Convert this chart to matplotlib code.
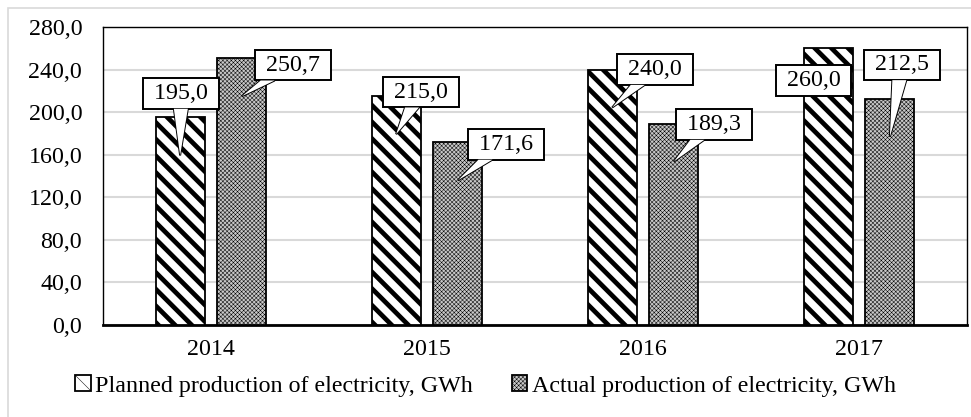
import numpy as np
import matplotlib
matplotlib.use('Agg')
import matplotlib.pyplot as plt
from matplotlib.patches import Rectangle, Polygon

# data
years = ['2014', '2015', '2016', '2017']
planned = [195.0, 215.0, 240.0, 260.0]
actual = [250.7, 171.6, 189.3, 212.5]
series_names = ['Planned production of electricity, GWh',
                'Actual production of electricity, GWh']
yticks = [0, 40, 80, 120, 160, 200, 240, 280]

# callout box offsets from the pointer tip (pixels), None = no pointer
off_planned = [(1, 62), (25, 42), (43, 38), None]
off_actual = [(51, 31), (48, 36), (40, 37), (12, 72)]

plt.rcParams['font.family'] = ['Liberation Serif', 'DejaVu Serif']
fs = 17.3

fig = plt.figure(figsize=(9.71, 4.17), dpi=100)
W, H = 971, 417
ax = fig.add_axes([103 / W, 1 - 325 / H, (967 - 103) / W, (325 - 27) / H])

# light frame round the chart
fig.patches.append(Rectangle((8 / W, -0.1), 1.1, 1 - 8 / H + 0.1, transform=fig.transFigure,
                             fill=False, ec='#d9d9d9', lw=1.2, zorder=0))

x = np.arange(len(years))
w = 0.227
d = 0.143

plt.rcParams['hatch.linewidth'] = 3.4
b1 = ax.bar(x - d, planned, w, color='white', edgecolor='black', hatch='\\\\', lw=1.3,
            label=series_names[0], zorder=3)
plt.rcParams['hatch.linewidth'] = 0.35
b2 = ax.bar(x + d, actual, w, color='#c8c8c8', edgecolor='black', hatch='xxxxxxxx', lw=1.3,
            label=series_names[1], zorder=3)
for p in b1.patches:
    if hasattr(p, 'set_hatch_linewidth'):
        p.set_hatch_linewidth(3.4)
for p in b2.patches:
    if hasattr(p, 'set_hatch_linewidth'):
        p.set_hatch_linewidth(0.35)

ax.set_xlim(-0.5, 3.5)
ax.set_ylim(0, 280)
ax.set_yticks(yticks)
ax.set_yticklabels([('%.1f' % v).replace('.', ',') for v in yticks], fontsize=fs)
ax.set_xticks(x)
ax.set_xticklabels(years, fontsize=fs)
ax.tick_params(length=0, axis='y', pad=15)
ax.tick_params(length=0, axis='x', pad=10)
ax.grid(axis='y', color='#d9d9d9', lw=1.5, zorder=0)
ax.set_axisbelow(True)
for s in ['left', 'top', 'right']:
    ax.spines[s].set_linewidth(1.0)
ax.spines['bottom'].set_linewidth(2.0)

px = 72.0 / 100  # points per pixel
tip_drop = 38 * 280 / 298  # pointer tip sits a little below bar top

callouts = []


def callout(xc, val, off):
    txt = ' ' + ('%.1f' % val).replace('.', ',') + ' '
    box = dict(boxstyle='square,pad=0.2', fc='white', ec='black', lw=1.4)
    if off is None:
        # box drawn across the bar, pointer hidden behind it
        ax.annotate(txt, xy=(xc, val), xytext=(-14.5 * px, -32 * px), textcoords='offset points',
                    ha='center', va='center', fontsize=fs, bbox=box, zorder=6)
        return
    tip = (xc, val - tip_drop)
    a = ax.annotate(txt, xy=tip, xytext=(off[0] * px, off[1] * px),
                    textcoords='offset points', ha='center', va='center', fontsize=fs,
                    bbox=box, zorder=6)
    callouts.append((a, tip))


for i in range(len(years)):
    callout(x[i] - d, planned[i], off_planned[i])
    callout(x[i] + d, actual[i], off_actual[i])

fig.legend(handles=[b1, b2], loc='center', bbox_to_anchor=(0.5, 1 - 386 / H), ncol=2,
           frameon=False, fontsize=fs, handlelength=0.65, handleheight=0.65,
           handletextpad=0.2, columnspacing=1.6)

# pointers of the callouts: triangle from box edge to the tip
fig.canvas.draw()
inv = ax.transData.inverted()
hw = 7
for a, tip in callouts:
    bb = a.get_bbox_patch().get_window_extent()
    cx, cy = (bb.x0 + bb.x1) / 2, (bb.y0 + bb.y1) / 2
    tx, ty = ax.transData.transform(tip)
    dx, dy = tx - cx, ty - cy
    sx = (bb.width / 2) / abs(dx) if dx != 0 else 1e9
    sy = (bb.height / 2) / abs(dy) if dy != 0 else 1e9
    s = min(sx, sy)
    ex, ey = cx + dx * s, cy + dy * s
    if sy < sx:
        x0 = min(max(ex - hw, bb.x0 + 2), bb.x1 - 2 - 2 * hw)
        pts = [(x0, ey), (x0 + 2 * hw, ey), (tx, ty)]
    else:
        y0 = min(max(ey - hw, bb.y0 + 2), bb.y1 - 2 - 2 * hw)
        pts = [(ex, y0), (ex, y0 + 2 * hw), (tx, ty)]
    pts = inv.transform(pts)
    ax.add_patch(Polygon(pts, closed=True, fc='white', ec='black', lw=1.4, zorder=5))
    ax.add_patch(Polygon(pts, closed=True, fc='white', ec='none', zorder=7))

fig.savefig('out.png', dpi=100)
